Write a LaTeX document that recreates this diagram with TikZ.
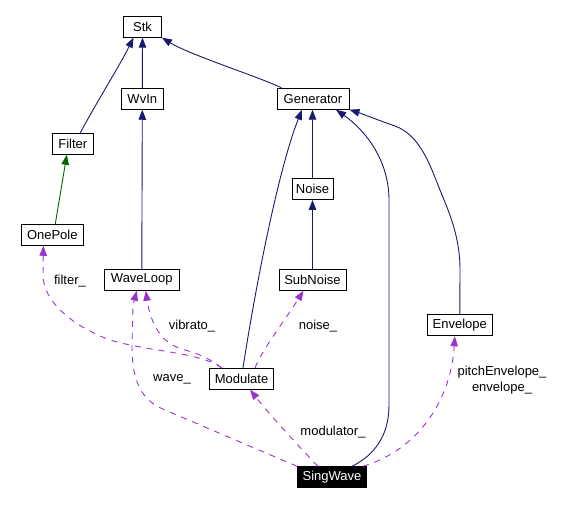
\documentclass[tikz,border=0pt]{standalone}
\usepackage{fontspec}
\setmainfont{Liberation Sans}
\usetikzlibrary{arrows.meta}
\definecolor{inh}{HTML}{191970}
\definecolor{grn}{HTML}{006400}
\definecolor{usecol}{HTML}{9A32CD}
\begin{document}
\begin{tikzpicture}[x=1pt,y=-1pt,
  font=\fontsize{13}{15.5}\selectfont,
  cls/.style={draw=black, line width=0.9pt, fill=white, minimum height=21pt, inner sep=0pt},
  lbl/.style={inner sep=0pt, align=center},
  inhedge/.style={draw=inh, line width=0.9pt, -{Triangle[length=10pt,width=7.5pt]}},
  grnedge/.style={draw=grn, line width=0.9pt, -{Triangle[length=10pt,width=7.5pt]}},
  useedge/.style={draw=usecol, line width=0.9pt, dash pattern=on 6pt off 6pt, -{Triangle[length=10pt,width=7.5pt]}}
]
\useasboundingbox (0,0) rectangle (564,505);

\node[cls, minimum width=38pt] (Stk) at (142.5,26.7) {Stk};
\node[cls, minimum width=42pt] (WvIn) at (142.3,98.8) {WvIn};
\node[cls, minimum width=72pt] (Generator) at (313,98.8) {Generator};
\node[cls, minimum width=41pt] (Filter) at (72.8,143.8) {Filter};
\node[cls, minimum width=41pt] (Noise) at (312.5,189) {Noise};
\node[cls, minimum width=62pt] (OnePole) at (52.3,234.8) {OnePole};
\node[cls, minimum width=75pt] (WaveLoop) at (141.8,279.8) {WaveLoop};
\node[cls, minimum width=67pt] (SubNoise) at (312.5,279.8) {SubNoise};
\node[cls, minimum width=65pt] (Envelope) at (459.8,325.3) {Envelope};
\node[cls, minimum width=64pt] (Modulate) at (241.5,378.8) {Modulate};
\node[cls, minimum width=69pt, fill=black, text=white] (SingWave) at (332,477.2) {SingWave};

% labels
\node[lbl] (lfilter) at (70,281) {filter\_};
\node[lbl] (lvibrato) at (192,326) {vibrato\_};
\node[lbl] (lnoise) at (318,326) {noise\_};
\node[lbl] (lwave) at (172,379.5) {wave\_};
\node[lbl] (lmodulator) at (333,432.5) {modulator\_};
\node[lbl] (lenvelope) at (502,380) {pitchEnvelope\_\\envelope\_};

% inheritance
\draw[inhedge] ([xshift=7.5pt]Filter.north) .. controls (95,105) and (120,65) .. ([xshift=-9pt]Stk.south);
\draw[inhedge] (WvIn.north) -- (Stk.south);
\draw[inhedge] ([xshift=5pt]Generator.north west) .. controls (262,78) and (190,55) .. (Stk.south east);
\draw[inhedge] (WaveLoop.north) -- (WvIn.south);
\draw[grnedge] ([xshift=3pt]OnePole.north) -- ([xshift=-6pt]Filter.south);
\draw[inhedge] (Noise.north) -- (Noise.north |- Generator.south);
\draw[inhedge] (SubNoise.north) -- (Noise.south);
\draw[inhedge] ([xshift=1.5pt]Modulate.north) .. controls (255,290) and (278,170) .. ([xshift=-11pt]Generator.south);
\draw[inhedge] ([xshift=20pt]SingWave.north) .. controls (375,455) and (389,435) .. (389,405) -- (389,200) .. controls (389,160) and (365,130) .. ([xshift=23pt]Generator.south);
\draw[inhedge] (Envelope.north) -- (460,270) .. controls (460,235) and (448,210) .. (440,190) .. controls (430,165) and (420,135) .. (395,126) .. controls (375,119) and (360,113) .. (Generator.south east);

% usage
\draw[useedge] ([xshift=12.5pt]Modulate.north west) .. controls (200,352) and (150,352) .. (110,340) .. controls (70,325) and (43,300) .. (43,275) -- ([xshift=-9pt]OnePole.south);
\draw[useedge] ([xshift=12.5pt]Modulate.north west) .. controls (212,360) and (200,354) .. (185,350) .. controls (165,345) and (152,330) .. (147,300) -- ([xshift=4pt]WaveLoop.south);
\draw[useedge] (SingWave.north west) -- (165,410) .. controls (140,400) and (132,380) .. (132,345) -- (133,305) -- ([xshift=-5pt]WaveLoop.south);
\draw[useedge] ([xshift=13.5pt]Modulate.north) .. controls (262,350) and (285,320) .. ([xshift=-9pt]SubNoise.south);
\draw[useedge] ([xshift=-14pt]SingWave.north) .. controls (300,448) and (270,415) .. ([xshift=8.5pt]Modulate.south);
\draw[useedge] ([xshift=31pt]SingWave.north) .. controls (418,450) and (451,400) .. ([xshift=-5pt]Envelope.south);
\end{tikzpicture}
\end{document}
